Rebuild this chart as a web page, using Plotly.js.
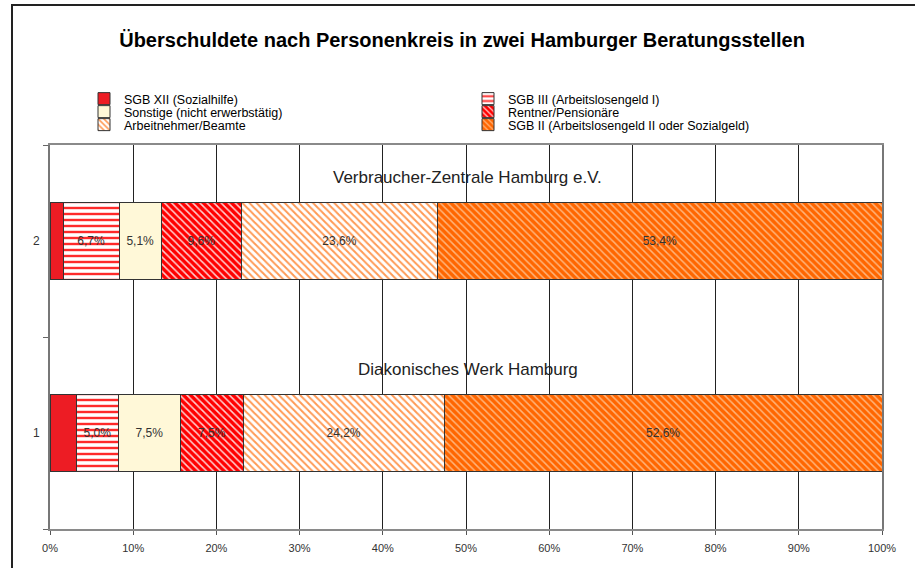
<!DOCTYPE html>
<html>
<head>
<meta charset="utf-8">
<script src="https://cdn.plot.ly/plotly-3.0.1.min.js"></script>
<style>
html,body{margin:0;padding:0;background:#fff;}
#chart{width:915px;height:568px;}
</style>
</head>
<body>
<div id="chart"></div>
<script>
// ---- data ----
var categories = ['1', '2'];
var categoryNames = ['Diakonisches Werk Hamburg', 'Verbraucher-Zentrale Hamburg e.V.'];
var seriesNames = [
  'SGB XII (Sozialhilfe)',
  'SGB III (Arbeitslosengeld I)',
  'Sonstige (nicht erwerbstätig)',
  'Rentner/Pensionäre',
  'Arbeitnehmer/Beamte',
  'SGB II (Arbeitslosengeld II oder Sozialgeld)'
];
var sgbXII      = [3.2, 1.6];
var sgbIII      = [5.0, 6.7];
var sonstige    = [7.5, 5.1];
var rentner     = [7.5, 9.6];
var arbeitnehmer= [24.2, 23.6];
var sgbII       = [52.6, 53.4];
var showLabel   = [false, true, true, true, true, true];
var xTickVals   = [0,10,20,30,40,50,60,70,80,90,100];
var xTickText   = ['0%','10%','20%','30%','40%','50%','60%','70%','80%','90%','100%'];

var seriesValues = [sgbXII, sgbIII, sonstige, rentner, arbeitnehmer, sgbII];

// ---- styles ----
var FONT = 'Liberation Sans, Arial, sans-serif';
var patterns = [
  {shape:'', bgcolor:'#ED1C24', fgcolor:'#ED1C24'},
  {shape:'-', bgcolor:'#FFFFFF', fgcolor:'#FF2A2A', size:6, solidity:0.4},
  {shape:'', bgcolor:'#FFF8D8', fgcolor:'#FFF8D8'},
  {shape:'\\', bgcolor:'#FF0000', fgcolor:'#FFD0D0', size:5, solidity:0.3},
  {shape:'\\', bgcolor:'#FFFFFF', fgcolor:'#FF9A55', size:5, solidity:0.4},
  {shape:'\\', bgcolor:'#FF6600', fgcolor:'#FFB47A', size:5, solidity:0.3}
];
var baseColors = ['#ED1C24','#FFFFFF','#FFF8D8','#FF0000','#FFFFFF','#FF6600'];
var legendIds = ['legend','legend2','legend3','legend4','legend5','legend6'];

function fmt(v){ return v.toFixed(1).replace('.', ',') + '%'; }

var traces = seriesNames.map(function(name, i){
  var vals = seriesValues[i];
  return {
    type:'bar',
    orientation:'h',
    name:name,
    x:vals,
    y:categories,
    width:0.4,
    text: vals.map(function(v){ return showLabel[i] ? fmt(v) : ''; }),
    textposition:'inside',
    insidetextanchor:'middle',
    textangle:0,
    constraintext:'none',
    insidetextfont:{family:FONT, size:12, color:'#333'},
    marker:{
      color: baseColors[i],
      line:{color:'#333', width:1},
      pattern: patterns[i]
    },
    legend: legendIds[i],
    hoverinfo:'skip'
  };
});

// legend placement (2 columns x 3 rows)
var legCols = [84, 468];
var legRows = [99, 112, 125];
var W = 915, H = 568;
var legendFont = {family:FONT, size:12.5, color:'#000'};
var layout = {
  width:W, height:H,
  paper_bgcolor:'#fff', plot_bgcolor:'#fff',
  margin:{l:50, r:33, t:145, b:39, pad:0, autoexpand:false},
  barmode:'stack',
  showlegend:true,
  title:{
    text:'Überschuldete nach Personenkreis in zwei Hamburger Beratungsstellen',
    font:{family:FONT, size:20, color:'#000', weight:'bold'},
    x:0.505, xanchor:'center', xref:'container',
    y:1-40/H, yanchor:'middle', yref:'container'
  },
  xaxis:{
    range:[0,100],
    tickvals:xTickVals, ticktext:xTickText,
    showgrid:true, gridcolor:'#222', gridwidth:1,
    zeroline:false,
    showline:true, linecolor:'#8a8a8a', linewidth:2, mirror:true,
    ticks:'outside', ticklen:4, tickcolor:'#555',
    ticklabelstandoff:4,
    tickfont:{family:FONT, size:11, color:'#333'},
    automargin:false,
    fixedrange:true
  },
  yaxis:{
    type:'category',
    categoryorder:'array', categoryarray:categories,
    range:[-0.5, 1.5],
    tickson:'boundaries',
    ticks:'outside', ticklen:5, tickcolor:'#666',
    showgrid:false, zeroline:false,
    showline:true, linecolor:'#777', linewidth:2, mirror:true,
    ticklabelstandoff:6,
    tickfont:{family:FONT, size:12, color:'#333'},
    automargin:false,
    fixedrange:true
  },
  annotations: categoryNames.map(function(nm, i){
    return {
      xref:'x', yref:'y', x:50.2, y:i,
      yshift:64, showarrow:false,
      text:nm,
      font:{family:FONT, size:17, color:'#222'},
      xanchor:'center', yanchor:'middle'
    };
  }),
  shapes:[{
    type:'rect', xref:'paper', yref:'paper',
    x0:(12-50)/832, x1:(940-50)/832,
    y0:(529-600)/384, y1:(529-5)/384,
    line:{color:'#222', width:2}, fillcolor:'rgba(0,0,0,0)', layer:'above'
  }]
};

legendIds.forEach(function(id, i){
  var col = i % 2, row = Math.floor(i / 2);
  layout[id] = {
    xref:'container', yref:'container',
    x: legCols[col]/W, y: 1 - legRows[row]/H,
    xanchor:'left', yanchor:'middle',
    orientation:'v',
    font:legendFont,
    bgcolor:'rgba(0,0,0,0)',
    borderwidth:0,
    itemwidth:30,
    itemclick:false, itemdoubleclick:false
  };
});

Plotly.newPlot('chart', traces, layout, {displayModeBar:false, staticPlot:true});
</script>
</body>
</html>
